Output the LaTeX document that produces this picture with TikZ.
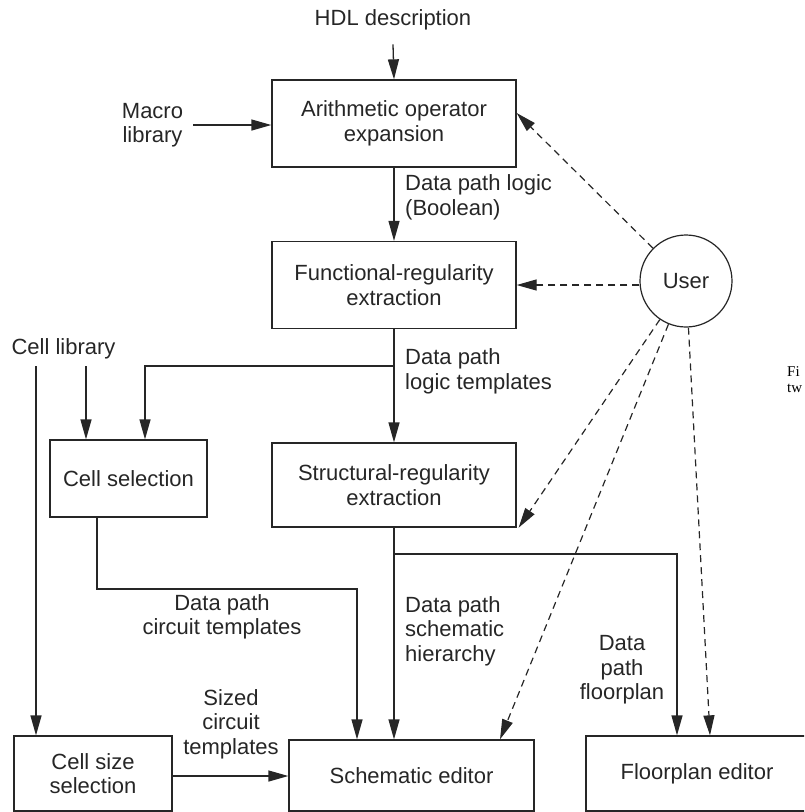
\documentclass[tikz,border=0pt]{standalone}
\usepackage{fontspec}
\setmainfont{Liberation Sans}
\newfontfamily\captionserif{Liberation Serif}
\usetikzlibrary{arrows.meta}
\definecolor{ink}{HTML}{262626}
\begin{document}
\begin{tikzpicture}[x=1pt,y=-1pt,
  every node/.style={font=\fontsize{22}{24.5}\selectfont, text=ink},
  box/.style={draw=ink, line width=1.3pt, inner sep=0pt, align=center},
  lbl/.style={align=center, inner sep=0pt},
  lbll/.style={align=left, anchor=west, inner sep=0pt},
  flow/.style={draw=ink, line width=1.3pt, -{Triangle[length=20pt,width=11pt]}},
  usr/.style={draw=ink, line width=1.2pt, dash pattern=on 7pt off 5pt,
              -{Triangle[length=20pt,width=11pt]}}
]
\useasboundingbox (0,0) rectangle (804,812);
\clip (0,0) rectangle (804,812);

% process boxes
\node[box, minimum width=244pt, minimum height=87pt] (arith) at (394,123.5)
  {Arithmetic operator\\expansion};
\node[box, minimum width=244pt, minimum height=87pt] (func) at (394,285)
  {Functional-regularity\\extraction};
\node[box, minimum width=157pt, minimum height=77pt] (cellsel) at (128.5,478.5)
  {Cell selection};
\node[box, minimum width=244pt, minimum height=84pt] (struct) at (394,485)
  {Structural-regularity\\extraction};
\node[box, minimum width=158pt, minimum height=75pt] (cellsize) at (93,773.5)
  {Cell size\\selection};
\node[box, minimum width=245pt, minimum height=71pt] (schem) at (411.5,775.5)
  {Schematic editor};
\node[box, minimum width=222pt, minimum height=75pt] (floor) at (697,773.5)
  {Floorplan editor};
\node[draw=ink, line width=1.2pt, circle, minimum size=92pt, inner sep=0pt] (user)
  at (686,281) {User};

% inputs
\node[lbl] (hdl) at (393,20) {HDL description};
\node[lbl] (macro) at (152.5,125) {Macro\\library};
\node[lbl] (celllib) at (63.5,349) {Cell library};

% connector labels
\node[lbll] (lblA) at (405,197.5) {Data path logic\\(Boolean)};
\node[lbll] (lblB) at (405,371.5) {Data path\\logic templates};
\node[lbl] (lblC) at (222,617) {Data path\\circuit templates};
\node[lbll] (lblD) at (405,631) {Data path\\schematic\\hierarchy};
\node[lbl] (lblE) at (622,670) {Data\\path\\floorplan};
\node[lbl] (lblF) at (231,724) {Sized\\circuit\\templates};

% cut-off caption at the right edge
\node[font=\captionserif\fontsize{15}{16}\selectfont, text=black, align=left,
      anchor=north west, inner sep=0pt] (cap) at (787,366) {Fi\\tw};

% junctions and free ends
\coordinate (jA) at (394,366);
\coordinate (jB) at (394,554);
\coordinate (clA) at (36,366);
\coordinate (clB) at (86,366);

% main flow
\draw[flow] ([yshift=-14pt]hdl.south) -- (arith.north);
\draw[flow] ([xshift=10pt]macro.east) -- (macro.east -| arith.west);
\draw[flow] (arith.south) -- (func.north);
\draw[flow] (func.south) -- (struct.north);
\draw[flow] (jA) -| ([xshift=16.5pt]cellsel.north);
\draw[flow] (clB) -- (clB |- cellsel.north);
\draw[flow] (clA) -- (clA |- cellsize.north);
\draw[flow] ([xshift=-31.5pt]cellsel.south) |- (357,589) -- ([xshift=-54.5pt]schem.north);
\draw[flow] (struct.south) -- ([xshift=-17.5pt]schem.north);
\draw[flow] (jB) -| ([xshift=-20pt]floor.north);
\draw[flow] ([yshift=-2.5pt]cellsize.east) -- ([yshift=-2.5pt]cellsize.east -| schem.west);

% user interaction
\draw[usr] (user) -- ([yshift=10.5pt]arith.east);
\draw[usr] (user.west |- func.east) -- (func.east);
\draw[usr] (user) -- ([xshift=2pt]struct.south east);
\draw[usr] (user) -- ([xshift=88.5pt]schem.north);
\draw[usr] (user) -- ([xshift=13pt]floor.north);
\end{tikzpicture}
\end{document}
